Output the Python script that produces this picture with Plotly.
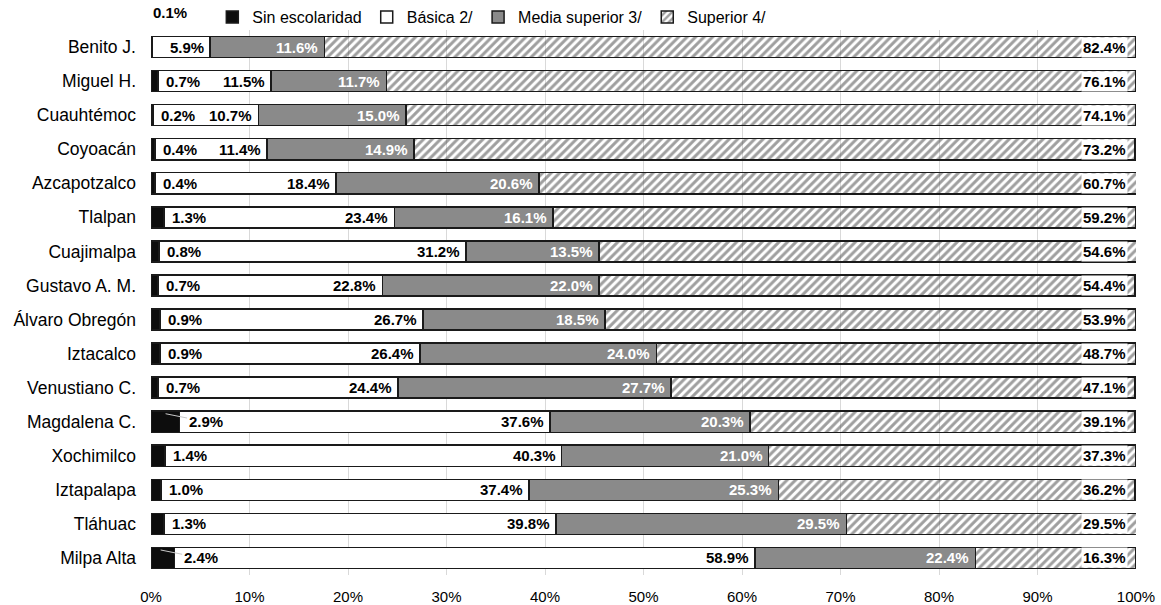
import plotly.graph_objects as go

# Población por nivel de escolaridad, por alcaldía (%)
alcaldias = ["Benito J.", "Miguel H.", "Cuauhtémoc", "Coyoacán", "Azcapotzalco",
             "Tlalpan", "Cuajimalpa", "Gustavo A. M.", "Álvaro Obregón", "Iztacalco",
             "Venustiano C.", "Magdalena C.", "Xochimilco", "Iztapalapa", "Tláhuac",
             "Milpa Alta"]
sin_escolaridad = [0.1, 0.7, 0.2, 0.4, 0.4, 1.3, 0.8, 0.7, 0.9, 0.9, 0.7, 2.9, 1.4, 1.0, 1.3, 2.4]
basica = [5.9, 11.5, 10.7, 11.4, 18.4, 23.4, 31.2, 22.8, 26.7, 26.4, 24.4, 37.6, 40.3, 37.4, 39.8, 58.9]
media_superior = [11.6, 11.7, 15.0, 14.9, 20.6, 16.1, 13.5, 22.0, 18.5, 24.0, 27.7, 20.3, 21.0, 25.3, 29.5, 22.4]
superior = [82.4, 76.1, 74.1, 73.2, 60.7, 59.2, 54.6, 54.4, 53.9, 48.7, 47.1, 39.1, 37.3, 36.2, 29.5, 16.3]
x_ticks = [0, 10, 20, 30, 40, 50, 60, 70, 80, 90, 100]

FONT = "Liberation Sans, Arial, sans-serif"
OUTLINE = dict(color="#1a1a1a", width=1.5)
BAR_W = 0.62

fig = go.Figure()
fig.add_trace(go.Bar(y=alcaldias, x=sin_escolaridad, orientation="h", name="Sin escolaridad",
                     width=BAR_W, marker=dict(color="#0d0d0d", line=OUTLINE)))
fig.add_trace(go.Bar(y=alcaldias, x=basica, orientation="h", name="Básica 2/",
                     width=BAR_W, marker=dict(color="#ffffff", line=OUTLINE)))
fig.add_trace(go.Bar(y=alcaldias, x=media_superior, orientation="h", name="Media superior 3/",
                     width=BAR_W, marker=dict(color="#8a8a8a", line=OUTLINE)))
fig.add_trace(go.Bar(y=alcaldias, x=superior, orientation="h", name="Superior 4/",
                     width=BAR_W,
                     marker=dict(color="rgba(255,255,255,0)", line=OUTLINE,
                                 pattern=dict(shape="/", fgcolor="#404040",
                                              bgcolor="rgba(255,255,255,0)",
                                              size=6, solidity=0.5))))

label_font = dict(family=FONT, size=15, color="#000000")
white_font = dict(family=FONT, size=15, color="#ffffff")
leader_rows = {"Magdalena C.", "Milpa Alta"}

annotations = []
for cat, s, b, m, sup in zip(alcaldias, sin_escolaridad, basica, media_superior, superior):
    # Sin escolaridad
    txt = f"<b>{s:.1f}%</b>"
    if cat == "Benito J.":
        annotations.append(dict(x=0, y=cat, text=txt, showarrow=False, xanchor="left",
                                yanchor="middle", yshift=35, font=label_font))
    elif cat in leader_rows:
        annotations.append(dict(x=s, y=cat, text=txt, showarrow=True, arrowhead=0,
                                arrowwidth=1, arrowcolor="#c8c8c8", xshift=-14, yshift=8,
                                ax=40, ay=8, font=label_font))
    else:
        annotations.append(dict(x=s, y=cat, text=txt, showarrow=False, xanchor="left",
                                xshift=6, font=label_font))
    # Básica
    annotations.append(dict(x=s + b, y=cat, text=f"<b>{b:.1f}%</b>", showarrow=False,
                            xanchor="right", xshift=-4, font=label_font))
    # Media superior
    annotations.append(dict(x=s + b + m, y=cat, text=f"<b>{m:.1f}%</b>", showarrow=False,
                            xanchor="right", xshift=-4, font=white_font))
    # Superior
    annotations.append(dict(x=100, y=cat, text=f"<b>{sup:.1f}%</b>", showarrow=False,
                            xanchor="right", xshift=-8, bgcolor="#ffffff", borderpad=1,
                            font=label_font))

fig.update_layout(
    width=1161, height=605,
    margin=dict(l=151, r=25, t=30, b=30, autoexpand=False),
    barmode="stack",
    plot_bgcolor="#ffffff", paper_bgcolor="#ffffff",
    font=dict(family=FONT, color="#000000"),
    annotations=annotations,
    legend=dict(orientation="h", x=0.346, xanchor="center", yref="container", y=1.0,
                yanchor="top", font=dict(family=FONT, size=16), itemwidth=30,
                traceorder="normal", bgcolor="rgba(0,0,0,0)"),
    xaxis=dict(range=[0, 100], tickvals=x_ticks, ticktext=[f"{v}%" for v in x_ticks],
               showgrid=True, gridcolor="#d9d9d9", gridwidth=1, zeroline=False,
               showline=False, ticks="", ticklabelstandoff=11, automargin=False,
               tickfont=dict(family=FONT, size=15)),
    yaxis=dict(autorange="reversed", showgrid=False, showline=False, ticks="",
               ticklabelstandoff=14, automargin=False, tickfont=dict(family=FONT, size=17.5)),
    showlegend=True,
)

fig.write_html("out.html")
